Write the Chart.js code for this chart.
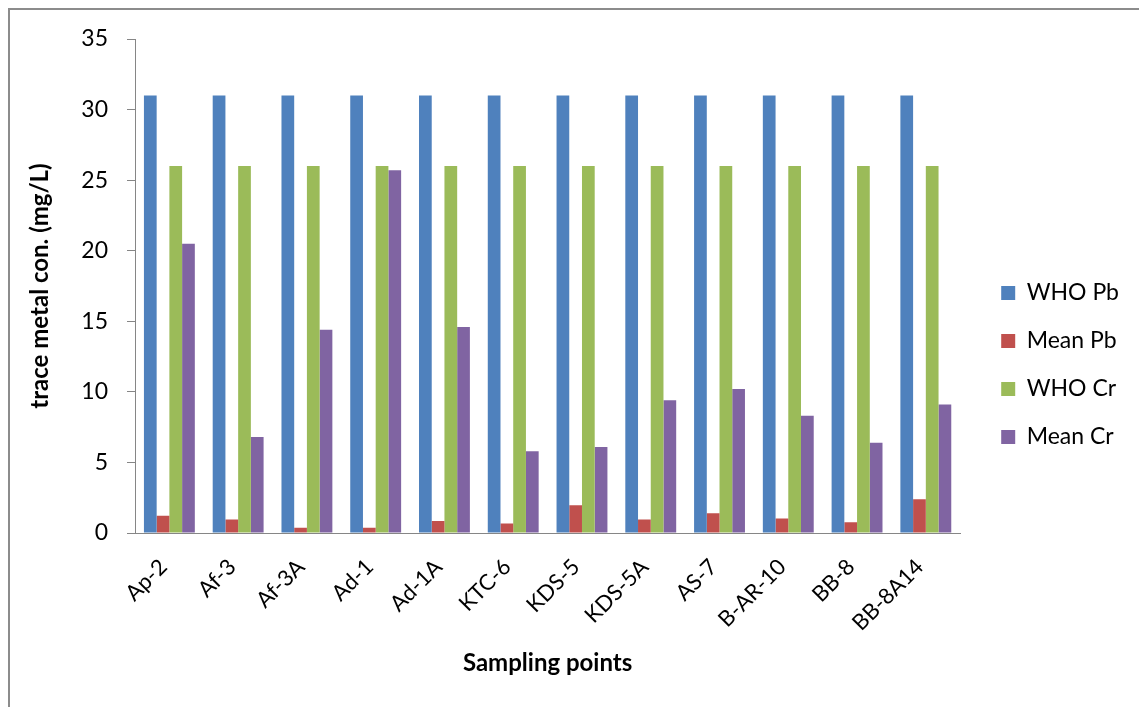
<!DOCTYPE html>
<html>
<head>
<meta charset="utf-8">
<script src="https://cdn.jsdelivr.net/npm/chart.js@4.4.1/dist/chart.umd.min.js"></script>
<style>
  html, body { margin: 0; padding: 0; background: #fff; overflow: hidden; }
  #frame {
    position: absolute; left: 8px; top: 8px;
    width: 1200px; height: 800px;
    border: 2px solid #8c8c8c;
  }
  #wrap { position: absolute; left: 0; top: 0; width: 1129px; height: 707px; }
</style>
</head>
<body>
<div id="frame"></div>
<div id="wrap"><canvas id="metalChart"></canvas></div>
<script>
// sampling points along the x axis
const sites = ['Ap-2', 'Af-3', 'Af-3A', 'Ad-1', 'Ad-1A', 'KTC-6', 'KDS-5', 'KDS-5A', 'AS-7', 'B-AR-10', 'BB-8', 'BB-8A14'];

// concentrations (mg/L)
const whoPb  = [31, 31, 31, 31, 31, 31, 31, 31, 31, 31, 31, 31];
const meanPb = [1.23, 0.95, 0.38, 0.38, 0.85, 0.67, 1.96, 0.95, 1.40, 1.02, 0.76, 2.39];
const whoCr  = [26, 26, 26, 26, 26, 26, 26, 26, 26, 26, 26, 26];
const meanCr = [20.5, 6.8, 14.4, 25.7, 14.6, 5.8, 6.1, 9.4, 10.2, 8.3, 6.4, 9.1];

const yTicks = [0, 5, 10, 15, 20, 25, 30, 35];

const axisGray = '#868686';
const font = 'Lato';
const bottomPad = 16;

const ctx = document.getElementById('metalChart').getContext('2d');
const metalChart = new Chart(ctx, {
    type: 'bar',
    data: {
        labels: sites,
        datasets: [
            { label: 'WHO Pb',  data: whoPb,  backgroundColor: '#4F81BD' },
            { label: 'Mean Pb', data: meanPb, backgroundColor: '#C0504D' },
            { label: 'WHO Cr',  data: whoCr,  backgroundColor: '#9BBB59' },
            { label: 'Mean Cr', data: meanCr, backgroundColor: '#8064A2' }
        ]
    },
    options: {
        responsive: true,
        maintainAspectRatio: false,
        animation: false,
        datasets: {
            bar: { categoryPercentage: 0.74, barPercentage: 1.0, borderWidth: 0 }
        },
        layout: { padding: { left: 22, top: 39, right: 0, bottom: bottomPad } },
        scales: {
            x: {
                grid: { display: false },
                border: { display: true, color: axisGray, width: 1 },
                ticks: {
                    autoSkip: false,
                    minRotation: 45,
                    maxRotation: 45,
                    padding: 13,
                    labelOffset: -6,
                    color: '#000',
                    font: { family: font, size: 22 }
                },
                title: {
                    display: true,
                    text: 'Sampling points',
                    color: '#000',
                    font: { family: font, size: 24, weight: 'bold' },
                    padding: { top: 4, bottom: 13 }
                },
                afterFit: (s) => { s.height = 707 - bottomPad - 533; }
            },
            y: {
                min: 0,
                max: 35,
                afterBuildTicks: (s) => { s.ticks = yTicks.map(v => ({ value: v })); },
                grid: {
                    display: true,
                    drawOnChartArea: false,
                    drawTicks: true,
                    tickLength: 8,
                    color: axisGray
                },
                border: { display: true, color: axisGray, width: 1 },
                ticks: {
                    padding: 19,
                    color: '#000',
                    font: { family: font, size: 23 }
                },
                title: {
                    display: true,
                    text: 'trace metal con. (mg/L)',
                    color: '#000',
                    font: { family: font, size: 24, weight: 'bold' },
                    padding: { top: 4, bottom: 4 }
                },
                afterFit: (s) => { s.width = 135 - 22; }
            },
            // empty spacer axis: keeps a gap between the plot and the legend
            yGap: {
                position: 'right',
                display: true,
                grid: { display: false },
                border: { display: false },
                ticks: { display: false },
                afterFit: (s) => { s.width = 16; }
            }
        },
        plugins: {
            legend: {
                position: 'right',
                align: 'center',
                labels: {
                    boxWidth: 14,
                    boxHeight: 14,
                    padding: 25,
                    color: '#000',
                    font: { family: font, size: 23 }
                }
            },
            tooltip: { enabled: false }
        }
    }
});
</script>
</body>
</html>
